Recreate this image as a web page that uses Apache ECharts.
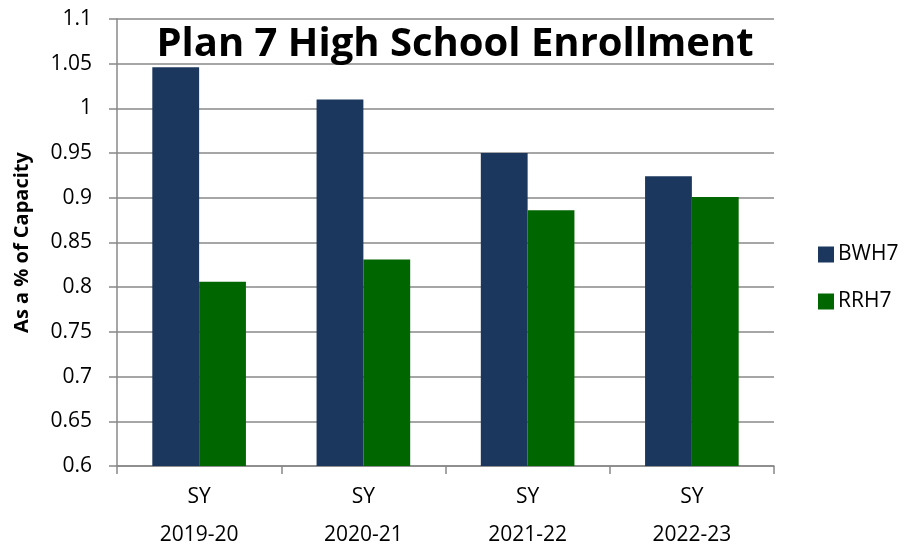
<!DOCTYPE html>
<html><head><meta charset="utf-8">
<script src="https://cdn.jsdelivr.net/npm/echarts@6/dist/echarts.min.js"></script>
<style>html,body{margin:0;padding:0;background:#fff}#c{width:906px;height:546px}</style>
</head><body><div id="c"></div>
<script>
const categories = ['SY\n2019-20', 'SY\n2020-21', 'SY\n2021-22', 'SY\n2022-23'];
const bwh7 = [1.046, 1.010, 0.950, 0.924];
const rrh7 = [0.806, 0.831, 0.886, 0.901];
const yTicks = [0.6, 0.65, 0.7, 0.75, 0.8, 0.85, 0.9, 0.95, 1, 1.05, 1.1];

const font = '"Open Sans", "Liberation Sans", sans-serif';
const chart = echarts.init(document.getElementById('c'), null, {renderer: 'canvas'});
chart.setOption({
  animation: false,
  backgroundColor: '#fff',
  title: {
    text: 'Plan 7 High School Enrollment',
    left: 450, top: 20, textAlign: 'center',
    textStyle: {fontFamily: font, fontWeight: 'bold', fontSize: 40, color: '#000'}
  },
  legend: {
    orient: 'vertical', left: 813, top: 239, itemGap: 26,
    itemWidth: 16, itemHeight: 16, icon: 'rect',
    textStyle: {fontFamily: font, fontSize: 21, color: '#000', padding: [0,0,0,-1]},
    data: ['BWH7', 'RRH7']
  },
  grid: {left: 117, right: 132, top: 19, bottom: 80, containLabel: false, outerBoundsMode: 'none'},
  xAxis: {
    type: 'category', data: categories,
    axisLine: {lineStyle: {color: '#888', width: 1.5}},
    axisTick: {show: true, length: 8, lineStyle: {color: '#888', width: 1.5}},
    axisLabel: {fontFamily: font, fontSize: 21, color: '#000', lineHeight: 38, margin: 12}
  },
  yAxis: {
    type: 'value', min: 0.6, max: 1.1, interval: 0.05,
    name: 'As a % of Capacity', nameLocation: 'middle', nameGap: 85,
    nameTextStyle: {fontFamily: font, fontWeight: 'bold', fontSize: 20, color: '#000'},
    axisLine: {show: true, lineStyle: {color: '#888', width: 1.5}},
    axisTick: {show: true, length: 8, lineStyle: {color: '#888', width: 1.5}},
    splitLine: {lineStyle: {color: '#888', width: 1.5}},
    axisLabel: {fontFamily: font, fontSize: 21, color: '#000', margin: 25,
      formatter: v => { const t = yTicks.find(x => Math.abs(x - v) < 1e-6); return t === undefined ? '' : String(t); }}
  },
  series: [
    {name: 'BWH7', type: 'bar', data: bwh7, barGap: '0%', barCategoryGap: '43%',
     itemStyle: {color: '#1B375E'}},
    {name: 'RRH7', type: 'bar', data: rrh7, barGap: '0%', barCategoryGap: '43%',
     itemStyle: {color: '#006600'}}
  ]
});
</script></body></html>
